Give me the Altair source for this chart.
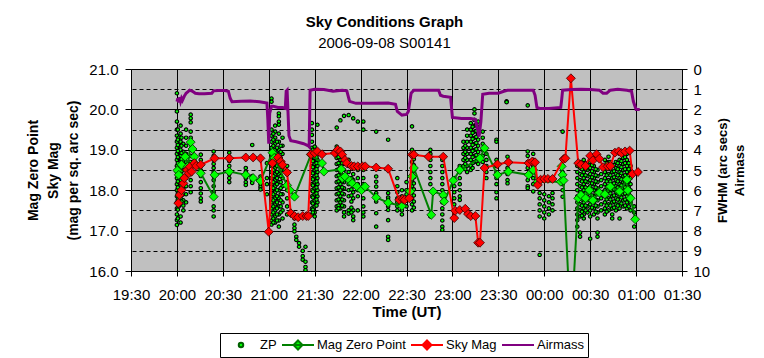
import altair as alt
import pandas as pd

# ---------------- data (time in decimal hours UT; 24.5 = 00:30 next day) ----------------
series_names = ["ZP", "Mag Zero Point", "Sky Mag", "Airmass"]
x_tick_values = [19.5, 20.0, 20.5, 21.0, 21.5, 22.0, 22.5, 23.0, 23.5, 24.0, 24.5, 25.0, 25.5]
mag_tick_values = [16, 17, 18, 19, 20, 21]
airmass_tick_values = [0, 1, 2, 3, 4, 5, 6, 7, 8, 9, 10]

airmass_t = [20.0, 20.01, 20.02, 20.03, 20.04, 20.05, 20.06, 20.08, 20.1, 20.14,
             20.17, 20.2, 20.24, 20.3, 20.38, 20.4, 20.45, 20.52, 20.56, 20.58,
             20.6, 20.7, 20.8, 20.9, 20.98, 20.99, 21.0, 21.01, 21.03, 21.05,
             21.1, 21.15, 21.18, 21.19, 21.2, 21.22, 21.24, 21.3, 21.38, 21.43,
             21.44, 21.45, 21.5, 21.6, 21.7, 21.8, 21.85, 21.88, 21.95, 22.05,
             22.1, 22.3, 22.38, 22.4, 22.45, 22.5, 22.52, 22.55, 22.58, 22.7,
             22.85, 22.87, 22.9, 22.98, 23.0, 23.1, 23.2, 23.25, 23.27, 23.29,
             23.31, 23.33, 23.4, 23.5, 23.56, 23.6, 23.75, 23.88, 23.9, 23.92,
             23.95, 24.05, 24.18, 24.19, 24.2, 24.3, 24.4, 24.5, 24.6, 24.64,
             24.68, 24.72, 24.8, 24.9, 24.95, 24.97, 25.0, 25.04]
airmass_v = [1.62, 1.45, 1.65, 1.4, 1.6, 1.45, 1.55, 1.35, 1.2, 1.05,
             1.1, 1.2, 1.22, 1.22, 1.2, 1.08, 1.06, 1.06, 1.1, 1.45,
             1.62, 1.6, 1.58, 1.62, 1.68, 2.5, 3.7, 2.2, 1.85, 1.85,
             1.9, 1.9, 1.95, 1.1, 1.05, 3.3, 3.55, 3.6, 3.7, 3.8,
             3.85, 1.05, 1.0, 1.02, 1.1, 1.05, 1.08, 1.6, 1.7, 1.7,
             1.7, 1.68, 1.75, 2.1, 2.28, 2.25, 2.1, 1.2, 1.05, 1.05,
             1.05, 1.3, 1.35, 1.4, 2.4, 2.45, 2.45, 2.5, 2.9, 3.35,
             2.6, 1.25, 1.2, 1.2, 1.1, 1.05, 1.05, 1.05, 1.3, 1.9,
             1.95, 1.95, 1.9, 1.5, 1.05, 1.02, 1.0, 1.02, 1.05, 1.2,
             1.2, 1.05, 1.0, 1.05, 1.1, 1.6, 2.0, 2.0]

sky_t = [20.015, 20.03, 20.05, 20.07, 20.08, 20.11, 20.13, 20.14, 20.16, 20.19,
         20.21, 20.26, 20.41, 20.57, 20.75, 20.83, 20.91, 21.0, 21.04, 21.1,
         21.13, 21.15, 21.2, 21.24, 21.28, 21.32, 21.37, 21.41, 21.43, 21.46,
         21.5, 21.53, 21.58, 21.72, 21.75, 21.78, 21.8, 21.83, 21.85, 21.9,
         21.93, 21.97, 22.02, 22.05, 22.17, 22.3, 22.42, 22.46, 22.48, 22.53,
         22.56, 22.58, 22.74, 22.9, 23.02, 23.03, 23.08, 23.14, 23.17, 23.2,
         23.25, 23.28, 23.3, 23.35, 23.49, 23.61, 23.83, 23.87, 23.9, 23.93,
         23.96, 24.0, 24.04, 24.09, 24.21, 24.23, 24.29, 24.37, 24.4, 24.45,
         24.5, 24.53, 24.57, 24.6, 24.64, 24.69, 24.72, 24.77, 24.81, 24.84,
         24.88, 24.93, 24.96, 25.02]
sky_v = [17.68, 17.88, 18.0, 18.17, 18.3, 18.5, 18.42, 18.58, 18.46, 18.67,
         18.6, 18.63, 18.79, 18.79, 18.81, 18.81, 18.79, 16.97, 18.67, 18.81,
         18.71, 18.63, 18.44, 17.43, 17.36, 17.33, 17.36, 17.36, 17.36, 18.89,
         18.92, 18.96, 18.89, 18.92, 19.0, 18.96, 18.88, 18.75, 18.67, 18.6,
         18.59, 18.59, 18.59, 18.59, 18.56, 18.53, 17.76, 17.78, 17.76, 17.8,
         18.88, 18.88, 18.83, 18.83, 17.31, 17.49, 17.51, 17.54, 17.41, 17.36,
         17.36, 16.7, 16.7, 18.55, 18.64, 18.69, 18.67, 18.71, 18.69, 18.13,
         18.26, 18.28, 18.28, 18.28, 18.77, 18.79, 20.77, 18.67, 18.63, 18.6,
         18.85, 18.74, 18.89, 18.78, 18.57, 18.59, 18.6, 18.93, 18.96, 18.92,
         18.96, 18.98, 18.4, 18.45]

mzp_t = [20.005, 20.02, 20.05, 20.09, 20.12, 20.15, 20.17, 20.19, 20.26, 20.4,
         20.41, 20.57, 20.75, 20.83, 20.91, 21.04, 21.06, 21.2, 21.23, 21.28,
         21.46, 21.58, 21.6, 21.79, 21.8, 21.83, 21.88, 21.91, 21.96, 22.01,
         22.05, 22.17, 22.3, 22.45, 22.54, 22.56, 22.58, 22.77, 22.79, 22.9,
         22.91, 23.01, 23.08, 23.3, 23.35, 23.49, 23.61, 23.83, 23.88, 23.93,
         24.18, 24.19, 24.2, 24.21, 24.29, 24.37, 24.4, 24.45, 24.49, 24.53,
         24.6, 24.66, 24.72, 24.82, 24.9, 24.91, 24.94, 24.99]
mzp_v = [18.49, 18.38, 18.63, 18.83, 18.59, 19.19, 19.02, 18.83, 18.42, 17.84,
         18.38, 18.46, 18.38, 18.3, 18.23, 18.93, 18.8, 18.12, 18.0, 17.84,
         18.88, 18.67, 18.46, 18.52, 18.3, 18.34, 18.24, 18.17, 18.09, 18.0,
         18.09, 17.82, 17.69, 17.61, 17.97, 18.34, 18.55, 17.39, 17.97, 17.88,
         17.72, 18.24, 18.5, 18.79, 19.04, 18.38, 18.46, 18.38, 18.5, 18.21,
         18.21, 18.59, 18.38, 18.24, 14.5, 17.8, 17.88, 17.8, 18.0, 17.75,
         17.94, 17.9, 18.09, 17.97, 18.26, 18.0, 17.8, 17.28]

# individual ZP measurements, grouped by exposure time
zp_col_t = [20.0, 20.02, 20.04, 20.07, 20.1, 20.15, 20.26, 20.4, 20.57, 20.75,
            20.82, 20.91, 20.98, 21.03, 21.07, 21.11, 21.15, 21.2, 21.28, 21.3,
            21.33, 21.37, 21.4, 21.47, 21.5, 21.53, 21.74, 21.78, 21.82, 21.87,
            21.92, 21.97, 22.03, 22.17, 22.3, 22.4, 22.45, 22.5, 22.56, 22.76,
            22.89, 23.02, 23.08, 23.12, 23.16, 23.2, 23.24, 23.28, 23.33, 23.37,
            23.48, 23.59, 23.6, 23.82, 23.88, 23.95, 24.0, 24.05, 24.09, 24.2,
            24.36, 24.39, 24.43, 24.47, 24.5, 24.54, 24.58, 24.62, 24.66, 24.7,
            24.74, 24.78, 24.82, 24.86, 24.9, 24.94, 24.98,
            20.01, 20.05, 21.05, 21.09, 21.13, 21.48, 21.52, 21.76, 21.8, 21.9,
            22.58, 23.14, 23.22, 23.26, 24.41, 24.45, 24.52, 24.56, 24.68, 24.72,
            24.76, 24.8, 24.84, 24.88, 24.92]
zp_col_v = [
    [20.4, 19.95, 19.7, 19.5, 19.35, 19.2, 19.05, 18.9, 18.75, 18.6, 18.45, 18.3, 18.15, 18.0, 17.85, 17.7, 17.55, 17.4, 17.26, 17.14],
    [19.3, 19.1, 18.95, 18.8, 18.65, 18.5, 18.35, 18.2, 18.05, 17.9, 17.75, 17.6],
    [19.6, 19.4, 19.2, 19.0, 18.85, 18.7, 18.55, 18.4, 18.25, 18.1, 17.95, 17.8, 17.35, 17.2],
    [19.15, 18.95, 18.8, 18.65, 18.5, 18.35, 18.2, 18.05, 17.9, 17.75, 17.62, 17.5],
    [19.5, 19.3, 19.1, 18.9, 18.7, 18.5, 18.3, 18.1, 17.9, 17.7],
    [19.87, 19.78, 19.68, 19.45, 19.3, 19.15, 19.0, 18.85, 18.7, 18.55, 18.4, 18.25, 18.1, 17.95],
    [18.88, 18.75, 18.6, 18.5, 18.35, 18.2, 18.05, 17.92, 17.8, 17.72],
    [18.96, 18.85, 18.75, 18.65, 18.55, 18.45, 18.35, 18.25, 18.1, 17.95, 17.6, 17.5, 17.35],
    [18.93, 18.83, 18.72, 18.6, 18.5, 18.4, 18.3, 18.2],
    [18.55, 18.46, 18.38, 18.3, 18.2, 18.13],
    [19.12, 18.35, 18.25, 18.18],
    [18.34, 18.25, 18.15, 18.08, 18.02],
    [18.67, 18.3, 18.15, 17.9],
    [20.27, 20.19, 19.5, 19.35, 19.2, 19.05, 18.9, 18.75, 18.6, 18.45, 18.3, 18.15, 18.0, 17.85, 17.7, 17.55, 17.4, 17.25, 17.15],
    [19.6, 19.45, 19.3, 19.15, 19.0, 18.85, 18.7, 18.55, 18.4, 18.25, 18.1, 17.95, 17.8, 17.65, 17.5, 17.35, 17.2],
    [19.9, 19.83, 19.7, 19.62, 19.4, 19.2, 19.0, 18.8, 18.6, 18.4, 18.2, 18.0, 17.8, 17.6, 17.4, 17.25, 17.1],
    [19.3, 19.1, 18.9, 18.7, 18.5, 18.3, 18.1, 17.9, 17.7, 17.5, 17.3],
    [18.6, 18.4, 18.2, 18.0, 17.8, 17.6, 17.4],
    [17.3, 17.15, 17.06, 16.98],
    [16.85, 16.77],
    [16.69, 16.6],
    [16.5, 16.37, 16.28],
    [16.6, 16.23, 16.1, 16.02],
    [19.66, 19.5, 19.37, 19.2, 19.05, 18.9, 18.75, 18.6, 18.45, 18.3, 18.15, 18.0, 17.85, 17.7, 17.55, 17.4],
    [19.08, 18.95, 18.8, 18.65, 18.5, 18.35, 18.2, 18.05, 17.9, 17.75, 17.6, 17.45, 17.35],
    [19.62, 18.9, 18.75, 18.6, 18.45, 18.3, 18.15, 18.0, 17.85, 17.7],
    [19.55, 19.08, 18.95, 18.8, 18.65, 18.5, 18.35, 18.2, 18.05, 17.9, 17.75, 17.6, 17.5],
    [19.73, 18.9, 18.75, 18.6, 18.45, 18.3, 18.15, 18.0, 17.85, 17.7, 17.55],
    [19.84, 18.8, 18.65, 18.5, 18.35, 18.2, 18.05, 17.9, 17.75, 17.6, 17.45, 17.35],
    [19.86, 18.75, 18.6, 18.45, 18.3, 18.15, 18.0, 17.85, 17.5, 17.42],
    [19.78, 18.4, 18.25, 18.1, 17.95, 17.8, 17.5, 17.35, 17.26],
    [19.7, 18.5, 18.3, 18.15, 18.0, 17.85, 17.5],
    [19.7, 19.5, 18.5, 18.3, 18.15, 18.0, 17.8, 17.6, 17.45, 17.35],
    [19.45, 18.34, 18.21, 18.09, 17.93, 17.72, 17.43, 17.1],
    [19.25, 17.93, 17.82, 17.76, 17.6, 17.51, 17.26, 16.85, 16.77],
    [18.3, 18.1, 17.95, 17.8, 17.7, 17.6, 17.5],
    [18.0, 17.85, 17.7, 17.6, 17.5, 17.4],
    [18.2, 18.0, 17.9, 17.75, 17.6],
    [19.58, 19.0, 18.85, 18.7, 18.55, 18.4, 18.25, 18.1, 17.95, 17.8, 17.65, 17.5],
    [19.0, 18.9, 18.75, 18.6, 18.45, 18.3, 18.15, 17.35],
    [18.75, 18.6, 18.45, 18.3, 18.15, 18.0, 17.85, 17.7, 17.55, 17.4, 17.25, 17.1, 17.02],
    [18.3, 18.1, 17.95, 17.8, 17.65, 17.45, 17.3],
    [18.6, 18.45, 18.3, 18.15, 18.0, 17.85, 17.76, 17.5],
    [19.2, 19.05, 18.9, 18.75, 18.6],
    [19.5, 19.35, 19.2, 19.05, 18.9, 18.75, 18.6, 18.45],
    [19.66, 19.5, 19.35, 19.2, 19.05, 18.9, 18.75, 18.6, 18.5],
    [20.0, 19.9, 19.74, 19.6, 19.45, 19.3, 19.15, 19.0, 18.85, 18.7],
    [19.7, 19.55, 19.4, 19.25, 19.1, 18.95, 18.8, 18.65],
    [19.45, 19.3, 19.15, 19.0, 18.85, 18.7],
    [18.9, 18.75, 18.6, 18.45, 18.3],
    [19.25, 19.2, 18.75, 18.6, 18.45, 18.3, 18.15, 17.95, 17.8],
    [20.2, 20.18],
    [18.83, 18.7, 18.55, 18.4, 18.25, 18.17],
    [20.1, 18.96, 18.85, 18.7, 18.55, 18.4, 18.25, 18.1, 18.05],
    [18.9, 18.75, 18.6, 18.45, 18.3, 18.15, 17.97],
    [17.93, 17.8, 17.65, 17.5, 17.35, 16.4],
    [17.9, 17.75, 17.6, 17.45, 17.3],
    [17.85, 17.7, 17.55, 17.4],
    [17.93, 17.8, 17.65, 17.5],
    [19.45, 18.75, 18.6, 18.45, 18.3, 18.15, 18.0, 17.84],
    [18.6, 18.45, 18.3, 18.15, 18.0, 17.85, 17.7, 17.55, 17.4, 17.26, 17.1],
    [18.7, 18.55, 18.4, 18.25, 18.1, 17.95, 17.8, 17.65, 17.5, 17.35, 16.95, 16.85],
    [18.75, 18.6, 18.45, 18.3, 18.15, 18.0, 17.85, 17.7, 17.55, 17.4, 17.3],
    [18.65, 18.5, 18.35, 18.2, 18.05, 17.9, 17.75, 17.6, 17.45],
    [18.7, 18.55, 18.4, 18.25, 18.1, 17.95, 17.8, 17.65, 17.5, 17.35, 16.8],
    [18.6, 18.45, 18.3, 18.15, 18.0, 17.85, 17.7, 17.55, 17.4],
    [18.5, 18.35, 18.2, 18.05, 17.9, 17.75, 17.6, 17.45, 17.3, 16.95, 16.85],
    [18.4, 18.25, 18.1, 17.95, 17.8, 17.65, 17.5],
    [18.75, 18.6, 18.45, 18.3, 18.15, 18.0, 17.85, 17.7, 17.55, 17.4],
    [18.83, 18.7, 18.55, 18.4, 18.25, 18.1, 17.95, 17.8, 17.65, 17.5],
    [18.6, 18.45, 18.3, 18.15, 18.0, 17.85, 17.7, 17.55, 17.4, 17.3],
    [18.7, 18.55, 18.4, 18.25, 18.1, 17.95, 17.8, 17.65, 17.5],
    [18.75, 18.6, 18.45, 18.3, 18.15, 18.0, 17.85, 17.7, 17.55, 17.3],
    [18.8, 18.65, 18.5, 18.35, 18.2, 18.05, 17.9, 17.75, 17.6],
    [18.9, 18.75, 18.6, 18.45, 18.3, 18.15, 18.0, 17.85, 17.7, 17.55],
    [18.6, 18.45, 18.3, 18.15, 18.0, 17.85, 17.7, 17.5],
    [17.6, 17.45, 17.3, 17.1],
    # denser parts of the exposure columns
    [19.5, 19.25, 19.12, 18.97, 18.82, 18.67, 18.52, 18.37, 18.22, 18.07, 17.92, 17.77, 17.52, 17.3],
    [19.3, 19.1, 18.92, 18.77, 18.62, 18.47, 18.32, 18.17, 18.02, 17.87, 17.72],
    [19.4, 19.25, 19.1, 18.95, 18.8, 18.65, 18.5, 18.35, 18.2, 18.05, 17.9, 17.75, 17.6, 17.45, 17.3, 17.2],
    [19.2, 19.05, 18.9, 18.75, 18.6, 18.45, 18.3, 18.15, 18.0, 17.85, 17.7, 17.55, 17.4, 17.25],
    [19.1, 18.95, 18.8, 18.65, 18.5, 18.35, 18.2, 18.05, 17.9, 17.75, 17.6, 17.45],
    [19.0, 18.87, 18.72, 18.57, 18.42, 18.27, 18.12, 17.97, 17.82, 17.67, 17.52, 17.45],
    [18.97, 18.82, 18.67, 18.52, 18.37, 18.22, 18.07, 17.92, 17.77, 17.62],
    [18.97, 18.82, 18.67, 18.52, 18.37, 18.22, 18.07, 17.92, 17.77, 17.62, 17.55],
    [18.82, 18.67, 18.52, 18.37, 18.22, 18.07, 17.92, 17.77, 17.62],
    [18.3, 18.17, 18.02, 17.87, 17.72, 17.57, 17.45],
    [18.92, 18.77, 18.62, 18.47, 18.32, 18.17, 18.02, 17.87, 17.72, 17.57],
    [19.1, 18.95, 18.8, 18.65, 18.52],
    [19.57, 19.42, 19.27, 19.12, 18.97, 18.82, 18.67, 18.55],
    [19.62, 19.47, 19.32, 19.17, 19.02, 18.87, 18.72],
    [18.52, 18.37, 18.22, 18.07, 17.92, 17.77, 17.62, 17.47, 17.37],
    [18.67, 18.52, 18.37, 18.22, 18.07, 17.92, 17.77, 17.62, 17.5],
    [18.62, 18.47, 18.32, 18.17, 18.02, 17.87, 17.72, 17.57],
    [18.52, 18.37, 18.22, 18.07, 17.92, 17.77, 17.62, 17.47],
    [18.67, 18.52, 18.37, 18.22, 18.07, 17.92, 17.77, 17.62, 17.47],
    [18.7, 18.52, 18.37, 18.22, 18.07, 17.92, 17.77, 17.62],
    [18.62, 18.47, 18.32, 18.17, 18.02, 17.87, 17.72, 17.57],
    [18.67, 18.52, 18.37, 18.22, 18.07, 17.92, 17.77, 17.62],
    [18.72, 18.57, 18.42, 18.27, 18.12, 17.97, 17.82, 17.67],
    [18.82, 18.67, 18.52, 18.37, 18.22, 18.07, 17.92, 17.77, 17.62],
    [18.67, 18.52, 18.37, 18.22, 18.07, 17.92, 17.77, 17.6],
]

# ---------------- tables ----------------
zp_df = pd.DataFrame(
    [(t, v) for t, vals in zip(zp_col_t, zp_col_v) for v in vals], columns=["t", "v"]
)
mzp_df = pd.DataFrame({"t": mzp_t, "v": mzp_v})
sky_df = pd.DataFrame({"t": sky_t, "v": sky_v})
air_df = pd.DataFrame({"t": airmass_t, "a": airmass_v})
# legend-only rows (placed before the visible time range, clipped away)
legend_df = pd.DataFrame({"series": series_names, "t": [19.0] * 4, "v": [18.0] * 4})

FONT = "Liberation Sans"

label_expr = ("(floor(datum.value) % 24 < 10 ? '0' : '') + (floor(datum.value) % 24) + ':' + "
              "(datum.value % 1 == 0 ? '00' : '30')")

x_enc = alt.X(
    "t:Q",
    scale=alt.Scale(domain=[19.5, 25.5], nice=False, zero=False),
    axis=alt.Axis(
        values=x_tick_values, labelExpr=label_expr, title="Time (UT)",
        grid=True, gridColor="black", gridWidth=1, tickSize=5,
        labelFontSize=15, labelFlush=False, labelOverlap=False, labelPadding=11,
        titleFontSize=15, titleFontWeight="bold", titlePadding=2,
    ),
)
y_enc = alt.Y(
    "v:Q",
    scale=alt.Scale(domain=[16, 21], nice=False, zero=False),
    axis=alt.Axis(
        orient="left", values=mag_tick_values, format=".1f",
        title=["Mag Zero Point", "Sky Mag", "(mag per sq. arc sec)"],
        grid=True, gridColor="black", gridWidth=1, tickSize=6,
        labelFontSize=15, labelPadding=7, labelFlush=False,
        titleFontSize=14, titleFontWeight="bold", titleLineHeight=20, titlePadding=8,
    ),
)
a_enc = alt.Y(
    "a:Q",
    scale=alt.Scale(domain=[0, 10], reverse=True, nice=False, zero=False),
    axis=alt.Axis(
        orient="right", values=airmass_tick_values,
        title=["FWHM (arc secs)", "Airmass"], titleAngle=270, titleBaseline="top",
        grid=True, gridColor="black", gridWidth=1, gridDash=[4, 3], tickSize=5,
        labelFontSize=15, labelPadding=6, labelFlush=False,
        titleFontSize=13, titleFontWeight="bold", titleLineHeight=17, titlePadding=-10,
    ),
)

zp_layer = alt.Chart(zp_df).mark_point(
    shape="circle", filled=True, size=12, fill="#00ff00", stroke="#000000",
    strokeWidth=1.1, opacity=1, clip=True,
).encode(x=x_enc, y=y_enc)

mzp_line = alt.Chart(mzp_df).mark_line(color="#008000", strokeWidth=2, clip=True).encode(x=x_enc, y=y_enc)
mzp_pts = alt.Chart(mzp_df).mark_point(
    shape="diamond", filled=True, size=80, fill="#00ff00", stroke="#003300",
    strokeWidth=0.8, opacity=1, clip=True,
).encode(x=x_enc, y=y_enc)

sky_line = alt.Chart(sky_df).mark_line(color="#ff0000", strokeWidth=2, clip=True).encode(x=x_enc, y=y_enc)
sky_pts = alt.Chart(sky_df).mark_point(
    shape="diamond", filled=True, size=80, fill="#ff0000", stroke="#400000",
    strokeWidth=0.8, opacity=1, clip=True,
).encode(x=x_enc, y=y_enc)

# legend symbols (custom paths: dot, line+diamond, line)
dot_path = "M0.14,0A0.14,0.14,0,1,1,-0.14,0A0.14,0.14,0,1,1,0.14,0Z"
line_diamond_path = "M-1,0L1,0M0,-0.28L0.28,0L0,0.28L-0.28,0Z"
line_path = "M-1,0L1,0"
legend_fill = ["#00ff00", "#00ff00", "#ff0000", "#800080"]
legend_stroke = ["#006000", "#008000", "#ff0000", "#800080"]
legend_shapes = [dot_path, line_diamond_path, line_diamond_path, line_path]

leg = alt.Legend(
    title=None, orient="none", legendX=89, legendY=264, direction="horizontal",
    strokeColor="black", fillColor="white", padding=4, cornerRadius=0,
    labelFontSize=13, labelFont=FONT, labelColor="black", labelOffset=2,
    columnPadding=4, symbolSize=1024, clipHeight=16, symbolStrokeWidth=2,
)
legend_layer = alt.Chart(legend_df).mark_point(
    filled=True, size=1024, opacity=1, strokeWidth=2, clip=True,
).encode(
    x=x_enc, y=y_enc,
    fill=alt.Fill("series:N", scale=alt.Scale(domain=series_names, range=legend_fill), legend=leg),
    stroke=alt.Stroke("series:N", scale=alt.Scale(domain=series_names, range=legend_stroke), legend=leg),
    shape=alt.Shape("series:N", scale=alt.Scale(domain=series_names, range=legend_shapes), legend=leg),
)

air_layer = alt.Chart(air_df).mark_line(color="#800080", strokeWidth=3, clip=True).encode(x=x_enc, y=a_enc)

left = alt.layer(zp_layer, mzp_line, mzp_pts, sky_line, sky_pts, legend_layer)

chart = alt.layer(left, air_layer).resolve_scale(y="independent").properties(
    width=551, height=202,
    autosize=alt.AutoSizeParams(type="none"),
    padding={"left": 123, "top": 61, "right": 74, "bottom": 87},
    title=alt.TitleParams(
        text="Sky Conditions Graph", subtitle="2006-09-08 S00141",
        font=FONT, subtitleFont=FONT, fontSize=15, subtitleFontSize=15,
        fontWeight="bold", color="black", subtitleColor="black",
        anchor="middle", frame="group", offset=11, subtitlePadding=6, dx=-22,
    ),
).configure(font=FONT).configure_view(
    fill="#c0c0c0", stroke="#808080", strokeWidth=1
).configure_axis(
    labelColor="black", titleColor="black", domainColor="black", tickColor="black",
    labelFont=FONT, titleFont=FONT, domainWidth=1, tickWidth=1,
)

chart.save("out.html", embed_options={"renderer": "svg", "actions": False})
